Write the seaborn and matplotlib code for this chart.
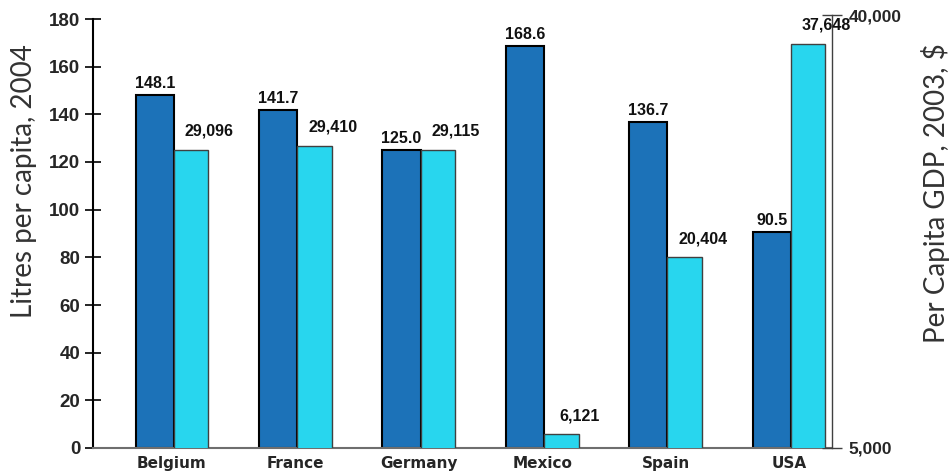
import numpy as np
import pandas as pd
import matplotlib
matplotlib.use("Agg")
import matplotlib.pyplot as plt
import seaborn as sns

# ---- data ----
countries = ["Belgium", "France", "Germany", "Mexico", "Spain", "USA"]
litres = [148.1, 141.7, 125.0, 168.6, 136.7, 90.5]
gdp = [29096, 29410, 29115, 6121, 20404, 37648]
litre_labels = ["148.1", "141.7", "125.0", "168.6", "136.7", "90.5"]
gdp_labels = ["29,096", "29,410", "29,115", "6,121", "20,404", "37,648"]
left_ticks = [0, 20, 40, 60, 80, 100, 120, 140, 160, 180]
right_ticks = [5000, 40000]
right_tick_labels = ["5,000", "40,000"]

sns.set_theme(style="white")
plt.rcParams['font.family'] = ['Liberation Sans', 'DejaVu Sans']

BLUE = "#1c72b8"
CYAN = "#28d6ee"

W, H = 950, 476
fig = plt.figure(figsize=(9.5, 4.76), dpi=100)
L, R, B, T = 93, 832, 448, 19
T2 = 15
ax = fig.add_axes([L / W, 1 - B / H, (R - L) / W, (B - T) / H])
ax2 = fig.add_axes([L / W, 1 - B / H, (R - L) / W, (B - T2) / H], facecolor="none")

pos = np.arange(len(countries))
df = pd.DataFrame({
    "pos_blue": pos - 0.14,
    "pos_cyan": pos + 0.155,
    "litres": litres,
    "gdp": gdp,
})

sns.barplot(data=df, x="pos_blue", y="litres", native_scale=True, width=0.31,
            color=BLUE, saturation=1, edgecolor="black", linewidth=1.5, ax=ax)
sns.barplot(data=df, x="pos_cyan", y="gdp", native_scale=True, width=0.28,
            color=CYAN, saturation=1, edgecolor="#404040", linewidth=1.0, ax=ax2)

xlim = (-0.64, 5.348)
for a in (ax, ax2):
    a.set_xlim(*xlim)
    a.set_xlabel("")
    a.set_ylabel("")
    a.grid(False)

# left axis
ax.set_ylim(0, 180)
ax.set_yticks(left_ticks)
ax.set_yticklabels([str(t) for t in left_ticks], fontsize=13.5, fontweight="bold")
ax.tick_params(axis="y", direction="inout", length=12, width=1.2, color="black",
               pad=3, left=True)
ax.set_xticks(pos)
ax.set_xticklabels(countries, fontsize=11, fontweight="bold",
                   family=["DejaVu Sans"])
ax.tick_params(axis="x", length=0, pad=6)
for s in ("top", "right"):
    ax.spines[s].set_visible(False)
ax.spines["left"].set_color("black")
ax.spines["left"].set_linewidth(1.5)
ax.spines["bottom"].set_color("#6e6e6e")
ax.spines["bottom"].set_linewidth(1.5)

# right axis
ax2.set_ylim(5000, 40000)
ax2.yaxis.tick_right()
ax2.set_yticks(right_ticks)
ax2.set_yticklabels(right_tick_labels, fontsize=12.5, fontweight="bold")
ax2.tick_params(axis="y", direction="inout", length=14, width=1.0, color="#404040",
                pad=5, right=True, left=False)
ax2.set_xticks([])
for s in ("top", "left", "bottom"):
    ax2.spines[s].set_visible(False)
ax2.spines["right"].set_color("#404040")
ax2.spines["right"].set_linewidth(1.0)

# value labels
for i in range(len(countries)):
    ax.annotate(litre_labels[i], (pos[i] - 0.14, litres[i]), xytext=(0, 3),
                textcoords="offset points", ha="center", va="bottom",
                fontsize=11.5, fontweight="bold", color="#111111")
    ax2.annotate(gdp_labels[i], (pos[i] + 0.155, gdp[i]), xytext=(13, 8),
                 textcoords="offset points", ha="center", va="bottom",
                 fontsize=11.5, fontweight="bold", color="#111111")

fig.text(24 / W, 1 - 181 / H, "Litres per capita, 2004", rotation=90, ha="center",
         va="center", fontsize=20, color="#333333", family=["Lato", "DejaVu Sans"])
fig.text(936 / W, 1 - 193 / H, "Per Capita GDP, 2003, $", rotation=90, ha="center",
         va="center", fontsize=20, color="#333333", family=["Lato", "DejaVu Sans"])

fig.savefig("out.png", dpi=100)
